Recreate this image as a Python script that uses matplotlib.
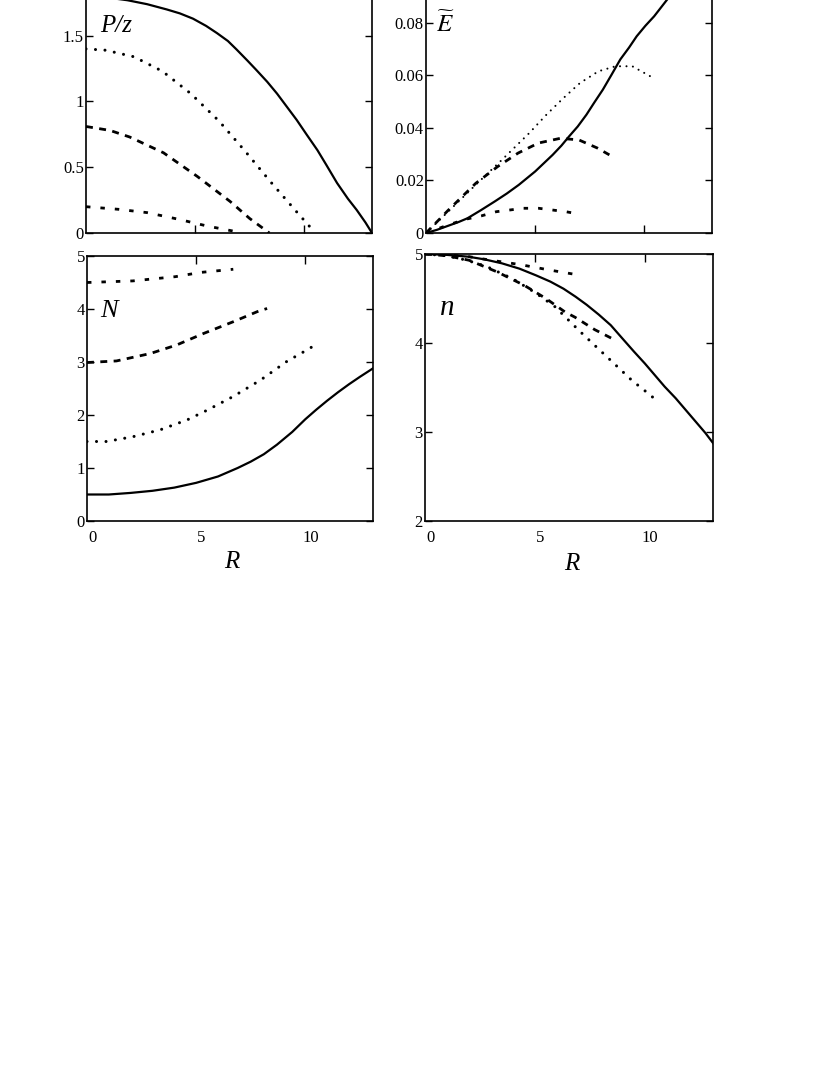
import numpy as np
import matplotlib
matplotlib.use("Agg")
import matplotlib.pyplot as plt
import matplotlib.transforms as mtransforms

plt.rcParams['font.family'] = ['Liberation Serif', 'DejaVu Serif']
plt.rcParams['mathtext.fontset'] = 'stix'

# ---- P/z panel ----
pz_solid_R = [0, 1, 1.9, 2.8, 3.7, 4.3, 4.9, 5.5, 6.0, 6.5, 6.9, 7.4, 7.8, 8.3, 8.75, 9.2,
              9.65, 10.1, 10.6, 11.0, 11.5, 12.0, 12.4, 12.8, 13.1]
pz_solid = [1.80, 1.79, 1.77, 1.74, 1.70, 1.67, 1.63, 1.575, 1.52, 1.46, 1.395, 1.31, 1.24,
            1.15, 1.06, 0.96, 0.86, 0.75, 0.63, 0.52, 0.38, 0.26, 0.175, 0.08, 0.0]
pz_dot_R = [0, 0.9, 2.2, 3.5, 4.8, 6.1, 7.3, 8.45, 9.6, 10.4]
pz_dot = [1.40, 1.39, 1.34, 1.23, 1.06, 0.85, 0.62, 0.39, 0.17, 0.02]
pz_dash_R = [0, 1.1, 2.0, 3.55, 5.1, 6.6, 7.5, 8.4]
pz_dash = [0.81, 0.78, 0.73, 0.61, 0.43, 0.24, 0.11, 0.0]
pz_sdash_R = [0, 1.5, 2.8, 4.25, 5.55, 6.95]
pz_sdash = [0.20, 0.18, 0.155, 0.104, 0.053, 0.008]

# ---- E~ panel ----
e_solid_R = [0, 0.5, 1.0, 1.5, 1.9, 2.5, 3.15, 3.7, 4.25, 5.0, 5.8, 6.2, 6.55, 6.95, 7.35,
             7.7, 8.1, 8.5, 8.9, 9.3, 9.65, 10.05, 10.45, 11.05, 11.6, 12.2]
e_solid = [0, 0.0012, 0.0027, 0.0042, 0.0056, 0.0086, 0.012, 0.015, 0.0183, 0.0234, 0.0297,
           0.0332, 0.0367, 0.0405, 0.045, 0.0495, 0.0545, 0.0602, 0.066, 0.0705, 0.0748,
           0.0788, 0.0824, 0.0888, 0.095, 0.101]
e_dot_R = [0, 1, 2.3, 3.5, 4.73, 5.47, 6.28, 7.05, 7.9, 8.68, 9.45, 10.4]
e_dot = [0, 0.008, 0.0185, 0.028, 0.038, 0.0446, 0.0512, 0.057, 0.0615, 0.0634, 0.0634, 0.059]
e_dash_R = [0, 1.0, 2.28, 3.29, 4.22, 5.15, 6.15, 7.0, 7.85, 8.4]
e_dash = [0, 0.0085, 0.0189, 0.0253, 0.0304, 0.0342, 0.036, 0.0354, 0.0323, 0.0297]
e_sdash_R = [0, 1.0, 1.8, 2.53, 3.22, 4.46, 5.16, 6.4, 7.02]
e_sdash = [0, 0.003, 0.0052, 0.0065, 0.0081, 0.0094, 0.0094, 0.0081, 0.0072]

# ---- N panel ----
N_solid_R = [0, 1, 2, 3, 4, 5, 6, 6.9, 7.5, 8.1, 8.7, 9.4, 10.0, 10.5, 11.0, 11.5, 12.0,
             12.5, 13.1]
N_solid = [0.5, 0.5, 0.53, 0.57, 0.63, 0.72, 0.84, 1.0, 1.12, 1.26, 1.44, 1.68, 1.92,
           2.10, 2.27, 2.43, 2.58, 2.72, 2.88]
N_dot_R = [0, 0.9, 2.1, 3.35, 4.6, 5.5, 6.7, 7.95, 9.15, 10.0, 10.45]
N_dot = [1.5, 1.5, 1.59, 1.72, 1.91, 2.09, 2.35, 2.66, 3.01, 3.21, 3.32]
N_dash_R = [0, 1.35, 2.9, 4.1, 5.35, 6.7, 7.8, 8.25]
N_dash = [2.99, 3.02, 3.16, 3.32, 3.54, 3.76, 3.95, 4.01]
N_sdash_R = [0, 2.1, 4.05, 5.2, 6.7]
N_sdash = [4.5, 4.53, 4.61, 4.69, 4.75]

# ---- n panel ----
n_solid_R = [0, 1, 1.96, 2.7, 3.5, 4.3, 5.05, 5.7, 6.3, 6.85, 7.35, 7.9, 8.45, 9.0, 9.5,
             10.0, 10.45, 10.9, 11.4, 11.85, 12.3, 12.75, 13.15]
n_solid = [5.0, 4.99, 4.97, 4.94, 4.895, 4.835, 4.76, 4.69, 4.61, 4.52, 4.43, 4.32, 4.20,
           4.045, 3.905, 3.77, 3.64, 3.51, 3.38, 3.25, 3.12, 2.99, 2.86]
n_dot_R = [0, 1.0, 1.9, 2.8, 4.0, 5.05, 5.9, 7.05, 7.82, 8.64, 9.41, 10.22, 10.6]
n_dot = [5.0, 4.98, 4.93, 4.86, 4.72, 4.56, 4.41, 4.13, 3.95, 3.76, 3.58, 3.42, 3.34]
n_dash_R = [0, 1.0, 2.0, 3.27, 4.5, 5.5, 6.36, 6.82, 7.72, 8.55]
n_dash = [5.0, 4.98, 4.93, 4.80, 4.65, 4.50, 4.35, 4.29, 4.15, 4.045]
n_sdash_R = [0, 1.0, 2.0, 3.0, 4.35, 5.66, 6.85]
n_sdash = [5.0, 4.99, 4.97, 4.93, 4.88, 4.82, 4.77]

x_ticks = [5, 10]
x_labels = ['0', '5', '10']

W, H = 830, 1075
fig = plt.figure(figsize=(W / 100, H / 100), dpi=100)


def px_axes(left, top, right, bottom):
    return fig.add_axes([left / W, 1 - bottom / H, (right - left) / W, (bottom - top) / H])


def draw(ax, solid, dot, dash, sdash, dot_lw=2.2):
    ax.plot(solid[0], solid[1], color='black', lw=1.6, solid_joinstyle='round')
    ax.plot(dot[0], dot[1], color='black', lw=dot_lw, linestyle=(0, (0.01, 3.1)), dash_capstyle='round')
    ax.plot(dash[0], dash[1], color='black', lw=2.0, linestyle=(0, (2.5, 2.3)))
    ax.plot(sdash[0], sdash[1], color='black', lw=2.0, linestyle=(0, (1.6, 3.6)))


def style(ax, top_row):
    for s in ax.spines.values():
        s.set_linewidth(1.2)
    ax.set_xlim(0, 13.1)
    ax.tick_params(axis='y', direction='in', length=5, width=1, left=True, right=True,
                   labelsize=12, pad=1.5)
    if top_row:
        ax.set_xticks(x_ticks)
        ax.tick_params(axis='x', direction='in', length=6, width=1, bottom=True, top=False,
                       labelbottom=False)
    else:
        ax.set_xticks([0, 5, 10], x_labels)
        ax.tick_params(axis='x', direction='in', length=6, width=1, bottom=False, top=True,
                       labelbottom=True, labelsize=12, pad=6.5)
        # hide the top tick at R=0, it sits on the spine
        ax.xaxis.get_major_ticks()[0].tick2line.set_visible(False)
        shift = mtransforms.ScaledTranslation(0.05, 0, fig.dpi_scale_trans)
        for lab in ax.get_xticklabels():
            lab.set_transform(lab.get_transform() + shift)


# top-left P/z
ax1 = px_axes(86, -30, 372, 233)
draw(ax1, (pz_solid_R, pz_solid), (pz_dot_R, pz_dot), (pz_dash_R, pz_dash), (pz_sdash_R, pz_sdash))
ax1.set_ylim(0, 2)
ax1.set_yticks([0, 0.5, 1, 1.5], ['0', '0.5', '1', '1.5'])
style(ax1, True)

# top-right E
ax2 = px_axes(426, -30, 712, 233)
draw(ax2, (e_solid_R, e_solid), (e_dot_R, e_dot), (e_dash_R, e_dash), (e_sdash_R, e_sdash), dot_lw=1.5)
ax2.set_ylim(0, 0.1)
ax2.set_yticks([0, 0.02, 0.04, 0.06, 0.08], ['0', '0.02', '0.04', '0.06', '0.08'])
style(ax2, True)

# bottom-left N
ax3 = px_axes(87, 256, 373, 521)
draw(ax3, (N_solid_R, N_solid), (N_dot_R, N_dot), (N_dash_R, N_dash), (N_sdash_R, N_sdash))
ax3.set_ylim(0, 5)
ax3.set_yticks([0, 1, 2, 3, 4, 5], ['0', '1', '2', '3', '4', '5'])
style(ax3, False)

# bottom-right n
ax4 = px_axes(425, 254, 713, 521)
draw(ax4, (n_solid_R, n_solid), (n_dot_R, n_dot), (n_dash_R, n_dash), (n_sdash_R, n_sdash))
ax4.set_ylim(2, 5)
ax4.set_yticks([2, 3, 4, 5], ['2', '3', '4', '5'])
style(ax4, False)


def ftext(x, y, s, **kw):
    fig.text(x / W, 1 - y / H, s, **kw)


ftext(100, 32, 'P/z', fontsize=18, fontstyle='italic', ha='left', va='baseline')
ftext(436, 32, r'$\widetilde{E}$', fontsize=18, ha='left', va='baseline')
ftext(100, 317, 'N', fontsize=19, fontstyle='italic', ha='left', va='baseline')
ftext(440, 315, 'n', fontsize=21, fontstyle='italic', ha='left', va='baseline')
ftext(232, 568, 'R', fontsize=18, fontstyle='italic', ha='center', va='baseline')
ftext(572, 570, 'R', fontsize=18, fontstyle='italic', ha='center', va='baseline')

fig.savefig('out.png', dpi=100)
